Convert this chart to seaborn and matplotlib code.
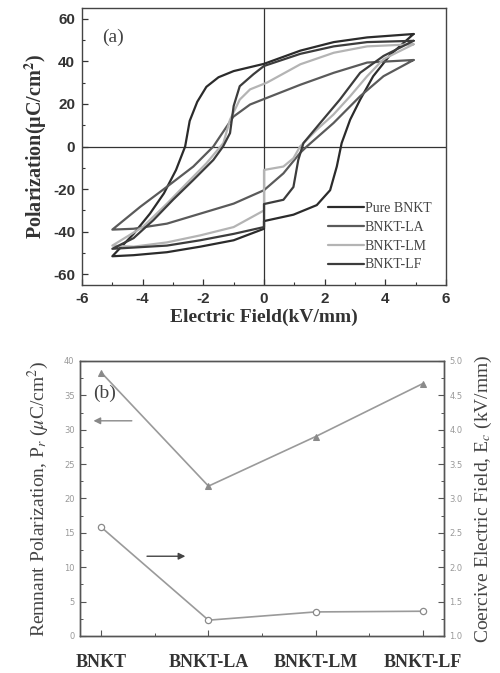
import numpy as np
import pandas as pd
import matplotlib
matplotlib.use('Agg')
import matplotlib.pyplot as plt
import seaborn as sns
from matplotlib.ticker import MultipleLocator

# ---------------- Panel (a) data: P-E hysteresis loops ----------------
pure_up_E = [4.93, 3.4, 2.3, 1.2, 0.0, -1.0, -1.5, -1.9, -2.2, -2.45, -2.6, -2.9, -3.3, -3.76, -4.3, -5.0]
pure_up_P = [52.8, 51.2, 49.0, 45.0, 38.8, 35.4, 32.5, 28.0, 21.0, 12.0, 0.0, -11.0, -22.0, -31.5, -41.0, -51.5]
pure_lo_E = [-5.0, -4.3, -3.2, -2.1, -1.0, 0.0, 0.0, 0.97, 1.74, 2.18, 2.4, 2.56, 2.84, 3.17, 3.6, 4.16, 4.93]
pure_lo_P = [-51.5, -51.0, -49.6, -47.0, -44.0, -38.6, -35.0, -32.0, -27.5, -20.5, -9.4, 1.6, 12.6, 22.0, 33.0, 43.0, 52.8]

la_up_E = [4.93, 3.4, 2.3, 1.2, 0.09, -0.46, -1.01, -1.45, -1.67, -2.33, -3.2, -4.08, -5.0]
la_up_P = [40.6, 39.4, 34.6, 29.0, 22.8, 19.7, 14.0, 4.7, 0.0, -9.4, -18.9, -28.3, -39.0]
la_lo_E = [-5.0, -4.3, -3.2, -2.1, -1.0, 0.0, 0.0, 0.64, 1.19, 1.41, 2.29, 3.17, 3.94, 4.93]
la_lo_P = [-39.0, -38.6, -36.2, -31.5, -26.8, -20.5, -20.5, -12.6, -3.0, 0.0, 11.0, 23.6, 33.0, 40.6]

lm_up_E = [4.93, 3.4, 2.3, 1.2, 0.1, -0.46, -0.8, -1.12, -1.34, -1.9, -2.55, -3.2, -4.0, -5.0]
lm_up_P = [48.0, 47.0, 44.0, 38.6, 30.0, 26.8, 22.0, 12.6, 1.6, -7.9, -17.3, -26.8, -37.8, -46.5]
lm_lo_E = [-5.0, -4.3, -3.2, -2.1, -1.0, 0.0, 0.0, 0.64, 0.97, 1.19, 1.74, 2.29, 2.84, 3.4, 3.94, 4.93]
lm_lo_P = [-46.5, -47.0, -45.0, -41.7, -37.8, -30.0, -11.0, -9.4, -5.5, 0.0, 7.9, 15.0, 23.6, 33.0, 41.0, 48.0]

lf_up_E = [4.93, 3.4, 2.3, 1.2, 0.0, -0.35, -0.8, -1.0, -1.12, -1.35, -1.67, -2.33, -3.0, -3.65, -4.3, -5.0]
lf_up_P = [49.6, 49.0, 47.0, 43.5, 37.8, 33.9, 28.3, 19.0, 6.3, 0.0, -6.3, -15.7, -25.0, -34.6, -43.0, -48.0]
lf_lo_E = [-5.0, -3.2, -2.1, -1.0, 0.0, 0.0, 0.64, 0.97, 1.13, 1.3, 1.85, 2.5, 3.17, 3.94, 4.93]
lf_lo_P = [-48.0, -46.5, -44.0, -41.0, -37.8, -27.0, -25.0, -19.0, -6.3, 1.6, 11.0, 22.0, 34.6, 42.5, 49.6]

loop_names = ['Pure BNKT', 'BNKT-LA', 'BNKT-LM', 'BNKT-LF']

# ---------------- Panel (b) data ----------------
categories = ['BNKT', 'BNKT-LA', 'BNKT-LM', 'BNKT-LF']
remnant_pol = [38.3, 21.8, 29.0, 36.7]
coercive_field = [2.58, 1.23, 1.35, 1.36]

# ---------------- styling ----------------
sns.set_theme(style='white')
plt.rcParams['font.family'] = ['DejaVu Sans']
plt.rcParams['axes.unicode_minus'] = False
plt.rcParams['mathtext.fontset'] = 'stix'
SERIF = 'Liberation Serif'
SANS = 'Liberation Sans'

fig = plt.figure(figsize=(5.0, 6.73), dpi=100)
ax1 = fig.add_axes([0.164, 0.5765, 0.728, 0.4116])
ax2 = fig.add_axes([0.160, 0.055, 0.728, 0.4086])

loop_colors = {'Pure BNKT': '#2b2b2b', 'BNKT-LA': '#5a5a5a',
               'BNKT-LM': '#b4b4b4', 'BNKT-LF': '#3c3c3c'}
loops = {
    'Pure BNKT': (pure_up_E, pure_up_P, pure_lo_E, pure_lo_P),
    'BNKT-LA': (la_up_E, la_up_P, la_lo_E, la_lo_P),
    'BNKT-LM': (lm_up_E, lm_up_P, lm_lo_E, lm_lo_P),
    'BNKT-LF': (lf_up_E, lf_up_P, lf_lo_E, lf_lo_P),
}

# reference lines
ax1.axhline(0, color='#333333', lw=0.9, zorder=1)
ax1.axvline(0, color='#333333', lw=0.9, zorder=1)

handles = []
for name in loop_names:
    uE, uP, lE, lP = loops[name]
    df = pd.DataFrame({'E': list(uE) + list(lE), 'P': list(uP) + list(lP)})
    sns.lineplot(data=df, x='E', y='P', sort=False, estimator=None,
                 color=loop_colors[name], lw=1.6, ax=ax1, zorder=3)
    handles.append(plt.Line2D([], [], color=loop_colors[name], lw=1.6))

ax1.set_xlim(-6, 6)
ax1.set_ylim(-65, 65)
ax1.xaxis.set_major_locator(MultipleLocator(2))
ax1.xaxis.set_minor_locator(MultipleLocator(1))
ax1.yaxis.set_major_locator(MultipleLocator(20))
ax1.yaxis.set_minor_locator(MultipleLocator(10))
ax1.tick_params(which='both', direction='in', bottom=True, left=True, color='#333333')
ax1.tick_params(which='major', length=4, width=0.9)
ax1.tick_params(which='minor', length=2.5, width=0.8)
ax1.tick_params(axis='both', labelsize=11, labelcolor='#333333', pad=5)
for lab in ax1.get_xticklabels() + ax1.get_yticklabels():
    lab.set_fontfamily(SANS)
    lab.set_fontweight('bold')
for sp in ax1.spines.values():
    sp.set_color('#444444')
    sp.set_linewidth(1.0)
ax1.set_xlabel('Electric Field(kV/mm)', fontfamily=SERIF, fontweight='bold',
               fontsize=14, color='#333333', labelpad=2)
ax1.set_ylabel('Polarization(μC/cm$^\\mathbf{2}$)', fontfamily=SERIF, fontweight='bold',
               fontsize=14.5, color='#333333', labelpad=3)
ax1.text(-5.35, 51, '(a)', fontfamily=SERIF, fontsize=14, color='#444444',
         ha='left', va='center')
fig.legend(handles, loop_names, loc='upper left', bbox_to_anchor=(0.655, 0.700),
           frameon=False, borderpad=0, borderaxespad=0, handlelength=2.6,
           handletextpad=0.1, labelspacing=0.42,
           prop={'family': SERIF, 'size': 10}, labelcolor='#444444')

# ---------------- Panel (b) ----------------
pos = np.arange(len(categories))
dfb = pd.DataFrame({'pos': pos, 'Pr': remnant_pol, 'Ec': coercive_field})
sns.lineplot(data=dfb, x='pos', y='Pr', ax=ax2, color='#9a9a9a', lw=1.2,
             marker='^', markersize=5, markerfacecolor='#8a8a8a',
             markeredgecolor='#8a8a8a')
ax2.set_xlim(-0.2, 3.2)
ax2.set_ylim(0, 40)
ax3 = ax2.twinx()
sns.lineplot(data=dfb, x='pos', y='Ec', ax=ax3, color='#9a9a9a', lw=1.2,
             marker='o', markersize=4.5, markerfacecolor='white',
             markeredgecolor='#8a8a8a', markeredgewidth=0.9)
ax3.set_ylim(1.0, 5.0)
ax3.set_xlim(-0.2, 3.2)

ax2.set_xticks(pos)
ax2.set_xticklabels(categories)
ax2.xaxis.set_minor_locator(MultipleLocator(0.5))
ax2.yaxis.set_major_locator(MultipleLocator(5))
ax2.yaxis.set_minor_locator(MultipleLocator(2.5))
ax3.yaxis.set_major_locator(MultipleLocator(0.5))
ax3.yaxis.set_minor_locator(MultipleLocator(0.25))
ax2.yaxis.set_major_formatter(matplotlib.ticker.FormatStrFormatter('%d'))
ax3.yaxis.set_major_formatter(matplotlib.ticker.FormatStrFormatter('%.1f'))

ax2.tick_params(which='both', direction='in', bottom=True, left=True, color='#555555')
ax2.tick_params(which='major', length=4, width=0.8)
ax2.tick_params(which='minor', length=2.5, width=0.7)
ax2.tick_params(axis='y', labelsize=6, labelcolor='#999999', pad=4)
ax2.tick_params(axis='x', labelsize=13, labelcolor='#333333', pad=13)
for lab in ax2.get_xticklabels():
    lab.set_fontfamily(SERIF)
    lab.set_fontweight('bold')
ax3.tick_params(which='both', direction='in', right=True, color='#555555')
ax3.tick_params(which='major', length=4, width=0.8)
ax3.tick_params(which='minor', length=2.5, width=0.7)
ax3.tick_params(axis='y', labelsize=6, labelcolor='#999999', pad=4)
for a in (ax2, ax3):
    for sp in a.spines.values():
        sp.set_color('#555555')
        sp.set_linewidth(1.0)

ax2.set_xlabel('')
ax2.set_ylabel('Remnant Polarization, P$_r$ ($\\mu$C/cm$^2$)', fontfamily=SERIF,
               fontsize=14, color='#444444', labelpad=9)
ax3.set_ylabel('Coercive Electric Field, E$_c$ (kV/mm)', fontfamily=SERIF,
               fontsize=14, color='#444444', labelpad=7)
ax2.text(-0.08, 35.3, '(b)', fontfamily=SERIF, fontsize=14, color='#444444',
         ha='left', va='center')

# arrows indicating axes
ax2.annotate('', xy=(-0.1, 31.3), xytext=(0.31, 31.3),
             arrowprops=dict(arrowstyle='-|>', color='#888888', lw=1.0,
                             mutation_scale=10))
ax2.annotate('', xy=(0.81, 11.6), xytext=(0.40, 11.6),
             arrowprops=dict(arrowstyle='-|>', color='#444444', lw=1.0,
                             mutation_scale=10))

fig.savefig('out.png', dpi=100)
